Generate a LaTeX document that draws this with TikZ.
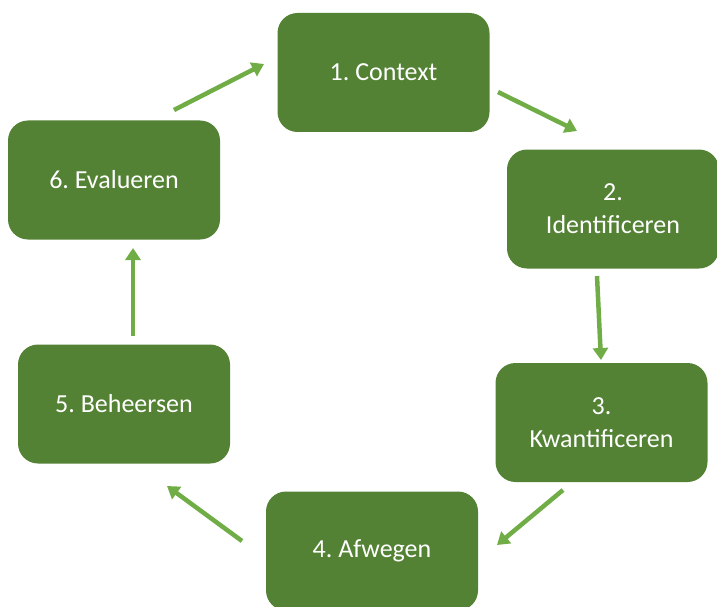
\documentclass[tikz,border=0pt]{standalone}
\usepackage{fontspec}
\setmainfont{Carlito}
\usetikzlibrary{arrows.meta}
\definecolor{boxgreen}{HTML}{548235}
\definecolor{arrowgreen}{HTML}{70AD47}
\frenchspacing
\tikzset{
  stage/.style={draw=none, fill=boxgreen, rounded corners=20pt,
    minimum width=212pt, minimum height=119pt, align=center,
    text=white, font=\fontsize{26}{33}\selectfont, inner sep=0pt},
  flow/.style={draw=arrowgreen, line width=4.5pt,
    -{Triangle[width=15pt,length=12pt]}}
}
\begin{document}
\begin{tikzpicture}[x=1pt,y=-1pt]
  \useasboundingbox (0,0) rectangle (717,607);
  % the six stages of the cycle
  \node[stage] (s1) at (383.5,72.5) {1. Context};
  \node[stage] (s2) at (613,209) {2.\\Identificeren};
  \node[stage] (s3) at (601.5,422.5) {3.\\Kwantificeren};
  \node[stage] (s4) at (372,551) {4. Afwegen};
  \node[stage] (s5) at (124,404) {5. Beheersen};
  \node[stage] (s6) at (114,180) {6. Evalueren};
  % arrow end points between neighbouring stages
  \coordinate (a12) at (498,92);
  \coordinate (b12) at (577,131);
  \coordinate (a23) at (597,276);
  \coordinate (b23) at (601,360);
  \coordinate (a34) at (563,490);
  \coordinate (b34) at (497,545);
  \coordinate (a45) at (242,541);
  \coordinate (b45) at (167,486);
  \coordinate (a56) at (133,336);
  \coordinate (b56) at (133,248);
  \coordinate (a61) at (174,110);
  \coordinate (b61) at (264,64);
  \draw[flow] (a12) -- (b12);
  \draw[flow] (a23) -- (b23);
  \draw[flow] (a34) -- (b34);
  \draw[flow] (a45) -- (b45);
  \draw[flow] (a56) -- (b56);
  \draw[flow] (a61) -- (b61);
\end{tikzpicture}
\end{document}
